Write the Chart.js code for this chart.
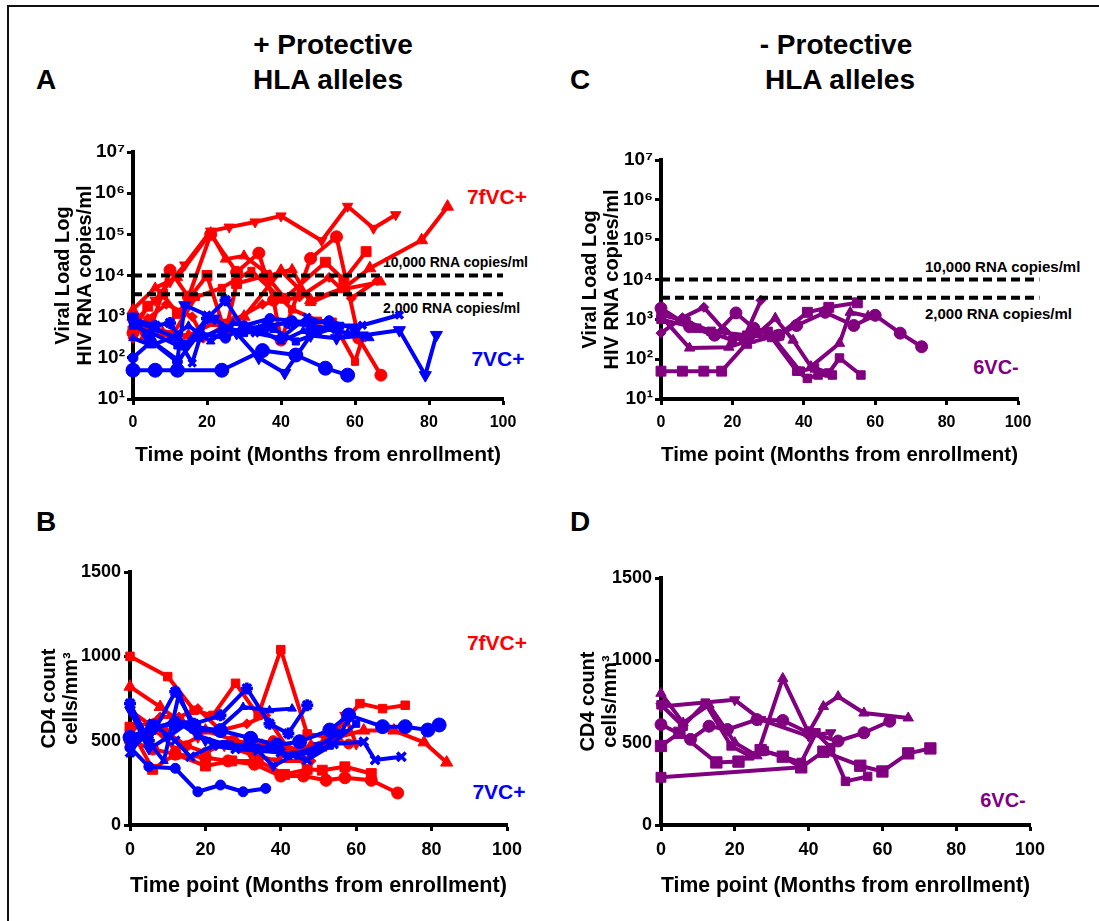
<!DOCTYPE html>
<html><head><meta charset="utf-8">
<script src="https://cdn.jsdelivr.net/npm/chart.js@4.4.1/dist/chart.umd.min.js"></script>
<style>
html,body{margin:0;padding:0;background:#fff;}
body{width:1099px;height:921px;position:relative;overflow:hidden;font-family:"Liberation Sans",Arial,sans-serif;}
.frame{position:absolute;left:7px;top:5px;right:-5px;bottom:-5px;border-top:2px solid #111;border-left:2px solid #111;}
.t{position:absolute;font-weight:bold;white-space:nowrap;line-height:1;transform:translate(-50%,-50%);color:#000;}
.l{position:absolute;font-weight:bold;white-space:nowrap;line-height:1;transform:translate(0,-50%);color:#000;}
canvas{position:absolute;}
</style></head><body>
<div class="frame"></div>
<div class="t" style="left:46px;top:80px;font-size:28px;">A</div>
<div class="t" style="left:580px;top:80px;font-size:28px;">C</div>
<div class="t" style="left:46px;top:522px;font-size:28px;">B</div>
<div class="t" style="left:580px;top:522px;font-size:28px;">D</div>
<div class="t" style="left:333px;top:45px;font-size:28px;">+ Protective</div>
<div class="t" style="left:328px;top:80px;font-size:28px;">HLA alleles</div>
<div class="t" style="left:836px;top:45px;font-size:28px;">- Protective</div>
<div class="t" style="left:840px;top:80px;font-size:28px;">HLA alleles</div>
<div class="t" style="left:497px;top:196px;font-size:21px;color:#ff0000;">7fVC+</div>
<div class="t" style="left:498px;top:358px;font-size:21px;color:#0000ff;">7VC+</div>
<div class="l" style="left:383px;top:262px;font-size:14px;">10,000 RNA copies/ml</div>
<div class="l" style="left:383px;top:308px;font-size:14px;">2,000 RNA copies/ml</div>
<div class="l" style="left:925px;top:266px;font-size:15px;">10,000 RNA copies/ml</div>
<div class="l" style="left:925px;top:313px;font-size:15px;">2,000 RNA copies/ml</div>
<div class="t" style="left:996px;top:367px;font-size:20px;color:#800080;">6VC-</div>
<div class="t" style="left:497px;top:642px;font-size:21px;color:#ff0000;">7fVC+</div>
<div class="t" style="left:499px;top:791px;font-size:21px;color:#0000ff;">7VC+</div>
<div class="t" style="left:1003px;top:800px;font-size:20px;color:#800080;">6VC-</div>

<canvas id="cA" width="535" height="359" style="left:10px;top:120px;"></canvas>
<canvas id="cC" width="535" height="359" style="left:560px;top:120px;"></canvas>
<canvas id="cB" width="535" height="375" style="left:10px;top:530px;"></canvas>
<canvas id="cD" width="535" height="375" style="left:560px;top:530px;"></canvas>
<script>
// ---------- axis / tick data ----------
const xTicks = [0, 20, 40, 60, 80, 100];
const logTicks = [1e1, 1e2, 1e3, 1e4, 1e5, 1e6, 1e7];
const cd4Ticks = [0, 500, 1000, 1500];
const thresholds = [10000, 3500];   // dashed reference lines (as plotted)

// ---------- Panel A: viral load, protective HLA+ ----------
// 7fVC+ (red)
const vlA_red1 = [[0,700],[6,2500],[10,7000],[14,18000],[21,120000],[26,150000],[33,200000],[40,280000],[51,70000],[58,480000],[65,140000],[71,300000]];
const vlA_red2 = [[0,1500],[6,5000],[12,9000],[21,110000],[25,25000],[30,30000],[37,10000],[43,14000],[48,2200],[56,4500],[67,7000]];
const vlA_red3 = [[0,450],[4,1800],[8,3500],[12,1200],[20,10000],[25,400],[28,6400],[36,10000],[41,2800],[52,21000],[57,7800],[63,38000]];
const vlA_red4 = [[0,400],[5,600],[10,13500],[15,3000],[21,100000],[28,12000],[34,35000],[38,2500],[40,270],[48,26000],[55,87000],[61,300],[67,38]];
const vlA_red5 = [[0,1000],[3,300],[8,400],[15,350],[22,700],[30,1000],[40,13000],[48,2500],[57,5000],[64,15000],[78,72000],[85,470000]];
const vlA_red6 = [[0,600],[5,500],[11,400],[17,3000],[24,5000],[32,13000],[43,1500],[50,800],[54,760],[60,80],[62,300]];
const vlA_red7 = [[0,300],[4,900],[9,2000],[16,1000],[19,300],[27,800],[35,2000],[45,3000],[53,9000],[59,2800],[66,7500]];
// 7VC+ (blue)
const vlA_blue1 = [[0,50],[6,50],[12,50],[24,50],[35,150],[44,117],[52,56],[58,38]];
const vlA_blue2 = [[0,1000],[4,300],[12,90],[14,1900],[22,900],[28,400],[34,100],[41,43],[48,350],[55,300],[62,350],[72,470],[79,38],[82,360]];
const vlA_blue3 = [[0,800],[6,500],[12,300],[16,75],[20,1100],[26,500],[33,400],[40,300],[47,970],[54,600],[62,620],[72,1100]];
const vlA_blue4 = [[0,900],[6,600],[10,700],[14,200],[20,900],[25,2500],[30,500],[36,600],[42,700],[48,600],[55,500]];
const vlA_blue5 = [[0,100],[5,250],[12,80],[18,400],[25,300],[30,600],[37,900],[43,800],[48,700],[53,800],[60,500]];
const vlA_blue6 = [[0,300],[5,200],[10,300],[15,600],[21,250],[27,700],[34,500],[40,250],[46,450],[52,500],[58,400],[64,300]];
const vlA_blue7 = [[0,600],[5,400],[12,200],[18,300],[24,500],[30,400],[38,500],[44,250],[50,400],[56,600]];

// ---------- Panel C: viral load, protective HLA- (6VC-, purple) ----------
const vlC_p1 = [[0,50],[6,50],[12,50],[17,50],[24,250],[33,400],[41,1500],[47,2000],[55,2600]];
const vlC_p2 = [[0,1900],[8,650],[15,400],[21,1450],[26,600],[33,400],[38,700],[46,1500],[54,700],[60,1260],[67,450],[73,205]];
const vlC_p3 = [[0,1200],[8,190],[19,200],[25,300],[32,1070],[37,300],[42,65],[50,250],[53,1500],[58,1200]];
const vlC_p4 = [[0,450],[6,1100],[12,2000],[18,500],[23,300],[28,3000]];
const vlC_p5 = [[0,1300],[7,900],[14,500],[24,400],[31,350],[38,50],[41,33],[44,40],[48,40]];
const vlC_p6 = [[0,1000],[10,600],[20,300],[30,500],[39,50],[43,60],[47,45],[50,107],[56,40]];

// ---------- Panel B: CD4, protective HLA+ ----------
const cdB_red1 = [[0,1000],[10,880],[17,680],[22,650],[28,840],[34,650],[40,1040],[47,540],[53,520],[61,720],[67,690],[73,710]];
const cdB_red2 = [[0,820],[8,700],[14,600],[20,560],[28,500],[35,470],[41,420],[48,470],[55,520],[62,560],[70,560],[78,490],[84,370]];
const cdB_red3 = [[0,500],[6,450],[12,420],[20,400],[26,380],[33,360],[40,290],[46,290],[52,265],[57,280],[64,265],[71,190]];
const cdB_red4 = [[0,580],[6,330],[12,420],[20,350],[27,380],[34,380],[41,300],[47,330],[51,325],[57,345],[64,305]];
const cdB_red5 = [[0,680],[5,600],[12,450],[18,520],[25,470],[32,420],[39,380],[46,380],[52,470],[57,650],[60,480]];
const cdB_red6 = [[0,560],[8,640],[13,640],[18,690],[24,560],[31,600],[36,650],[42,450],[48,380]];
const cdB_red7 = [[0,460],[4,530],[9,560],[15,470],[20,430],[27,500],[33,470],[38,500],[45,440],[52,500],[58,480]];
const cdB_blue1 = [[0,460],[5,346],[12,336],[18,197],[24,237],[30,197],[36,217]];
const cdB_blue2 = [[0,720],[5,500],[12,790],[17,600],[24,650],[31,810],[37,600],[42,543],[47,710]];
const cdB_blue3 = [[0,520],[6,583],[12,600],[17,583],[24,560],[32,514],[39,474],[45,494],[53,563],[58,652],[67,583],[73,583],[79,563],[82,593]];
const cdB_blue4 = [[0,430],[6,600],[12,500],[16,405],[22,470],[28,450],[34,440],[40,430],[47,385],[54,480],[62,494],[65,385],[72,405]];
const cdB_blue5 = [[0,680],[5,450],[10,520],[15,600],[20,500],[26,480],[33,460],[38,350],[44,420],[50,470],[56,550],[58,630]];
const cdB_blue6 = [[0,460],[4,520],[9,380],[13,780],[17,560],[23,560],[30,700],[37,680],[43,690]];
const cdB_blue7 = [[0,500],[6,560],[12,620],[18,530],[25,480],[31,470],[37,460],[42,410],[48,430],[53,470],[60,600]];

// ---------- Panel D: CD4, protective HLA- (6VC-, purple) ----------
const cdD_p1 = [[0,290],[38,350]];
const cdD_p2 = [[0,480],[5,560],[15,380],[21,385],[27,455],[33,415],[38,350],[44,445],[54,360],[60,325],[67,435],[73,465]];
const cdD_p3 = [[0,800],[6,620],[13,730],[20,500],[26,420],[33,890],[40,560],[44,720],[48,780],[55,680],[67,650]];
const cdD_p4 = [[0,610],[8,520],[13,600],[18,580],[26,640],[33,635],[40,560],[48,510],[55,560],[62,630]];
const cdD_p5 = [[0,720],[20,760],[27,640],[40,540],[46,560]];
const cdD_p6 = [[0,730],[6,600],[12,740],[19,480],[24,420],[28,450],[38,380],[42,560],[46,470],[50,265],[56,295]];

// ---------- colours & styles ----------
const RED = '#ff0000', BLUE = '#0000ff', PURPLE = '#800080';
const FONT = '"Liberation Sans", Arial, sans-serif';
const SUP = {1:'\u00B9',2:'\u00B2',3:'\u00B3',4:'\u2074',5:'\u2075',6:'\u2076',7:'\u2077'};

function series(pts, color, style, r, rot) {
  return {
    data: pts.map(p => ({x: p[0], y: p[1]})),
    borderColor: color, backgroundColor: color,
    pointBackgroundColor: color, pointBorderColor: color,
    borderWidth: 4, pointStyle: style, pointRadius: r, pointRotation: rot || 0,
    pointBorderWidth: (style === 'crossRot' || style === 'star' || style === 'cross') ? 3.5 : 1,
    tension: 0, clip: false, borderJoinStyle: 'round'
  };
}
function dashed(y, xEnd) {
  return { data: [{x: 0, y: y}, {x: xEnd, y: y}], borderColor: '#000', borderWidth: 4,
    borderDash: [9, 5], pointRadius: 0, clip: false, borderCapStyle: 'butt' };
}

function makeChart(id, datasets, o) {
  const isLog = o.log;
  const yScale = isLog ? {
    type: 'logarithmic', min: 10, max: 1e7,
    afterBuildTicks: s => { s.ticks = logTicks.map(v => ({value: v})); },
    ticks: { autoSkip: false, color: '#000', padding: 2,
      font: {family: FONT, size: o.yFont, weight: 'bold'},
      callback: v => '10' + SUP[Math.round(Math.log10(v))] }
  } : {
    type: 'linear', min: 0, max: 1500,
    afterBuildTicks: s => { s.ticks = cd4Ticks.map(v => ({value: v})); },
    ticks: { color: '#000', padding: 3, font: {family: FONT, size: o.yFont, weight: 'bold'},
      callback: v => String(v) }
  };
  Object.assign(yScale, {
    grid: { drawOnChartArea: false, drawTicks: true, tickLength: 6, tickWidth: 3, tickColor: '#000', color: '#000' },
    border: { display: true, width: 4, color: '#000' },
    title: { display: true, text: o.yTitle, color: '#000',
      font: {family: FONT, size: 20, weight: 'bold', lineHeight: 1.1},
      padding: {top: o.yTitlePad, bottom: 0} },
    afterFit: s => { s.width = o.yWidth; }
  });
  return new Chart(document.getElementById(id), {
    type: 'line',
    data: { datasets: datasets },
    options: {
      responsive: false, animation: false, devicePixelRatio: 1,
      layout: { padding: { left: 0, top: o.padTop, right: o.padRight, bottom: 0 } },
      plugins: { legend: { display: false }, tooltip: { enabled: false } },
      scales: {
        x: {
          type: 'linear', min: 0, max: 100,
          afterBuildTicks: s => { s.ticks = xTicks.map(v => ({value: v})); },
          ticks: { color: '#000', padding: 8, font: {family: FONT, size: o.xFont, weight: 'bold'},
            callback: v => String(v) },
          grid: { drawOnChartArea: false, drawTicks: true, tickLength: 6, tickWidth: 3, tickColor: '#000', color: '#000' },
          border: { display: true, width: 4, color: '#000' },
          title: { display: true, text: 'Time point (Months from enrollment)', color: '#000',
            font: {family: FONT, size: o.xTitleFont, weight: 'bold'},
            padding: {top: 0, bottom: o.xTitlePad} },
          afterFit: s => { s.height = 80; }
        },
        y: yScale
      }
    }
  });
}

const vlTitle = ['Viral Load Log', 'HIV RNA copies/ml'];
const cdTitle = ['CD4 count', 'cells/mm\u00B3'];

makeChart('cA', [
  dashed(thresholds[0], 100), dashed(thresholds[1], 100),
  series(vlA_blue1, BLUE, 'circle', 7), series(vlA_blue2, BLUE, 'triangle', 7, 180),
  series(vlA_blue3, BLUE, 'crossRot', 5), series(vlA_blue4, BLUE, 'star', 6),
  series(vlA_blue5, BLUE, 'circle', 5), series(vlA_blue6, BLUE, 'triangle', 5),
  series(vlA_blue7, BLUE, 'rect', 5),
  series(vlA_red1, RED, 'triangle', 6, 180), series(vlA_red2, RED, 'triangle', 6),
  series(vlA_red3, RED, 'rect', 7), series(vlA_red4, RED, 'circle', 6),
  series(vlA_red5, RED, 'triangle', 7), series(vlA_red6, RED, 'rect', 5),
  series(vlA_red7, RED, 'rectRot', 5)
], {log: true, yTitle: vlTitle, yTitlePad: 42, yWidth: 123, padTop: 32, padRight: 42, yFont: 19, xFont: 16, xTitleFont: 21, xTitlePad: 11});

makeChart('cC', [
  dashed(thresholds[0], 106), dashed(thresholds[1], 106),
  series(vlC_p1, PURPLE, 'rect', 7), series(vlC_p2, PURPLE, 'circle', 6),
  series(vlC_p3, PURPLE, 'triangle', 6), series(vlC_p4, PURPLE, 'rectRot', 5),
  series(vlC_p5, PURPLE, 'rect', 6), series(vlC_p6, PURPLE, 'rect', 6)
], {log: true, yTitle: vlTitle, yTitlePad: 19, yWidth: 101, padTop: 40, padRight: 77, yFont: 19, xFont: 16, xTitleFont: 21, xTitlePad: 11});

makeChart('cB', [
  series(cdB_blue1, BLUE, 'circle', 5), series(cdB_blue2, BLUE, 'star', 6),
  series(cdB_blue3, BLUE, 'circle', 7), series(cdB_blue4, BLUE, 'crossRot', 6),
  series(cdB_blue5, BLUE, 'triangle', 6, 180), series(cdB_blue6, BLUE, 'triangle', 5),
  series(cdB_blue7, BLUE, 'rect', 5),
  series(cdB_red1, RED, 'rect', 6), series(cdB_red2, RED, 'triangle', 7),
  series(cdB_red3, RED, 'circle', 6), series(cdB_red4, RED, 'rect', 7),
  series(cdB_red5, RED, 'triangle', 6, 180), series(cdB_red6, RED, 'rectRot', 5),
  series(cdB_red7, RED, 'circle', 5)
], {log: false, yTitle: cdTitle, yTitlePad: 28, yWidth: 120, padTop: 42, padRight: 38, yFont: 18, xFont: 18, xTitleFont: 22, xTitlePad: 6});

makeChart('cD', [
  series(cdD_p1, PURPLE, 'rect', 7), series(cdD_p2, PURPLE, 'rect', 8),
  series(cdD_p3, PURPLE, 'triangle', 6), series(cdD_p4, PURPLE, 'circle', 6),
  series(cdD_p5, PURPLE, 'triangle', 6, 180), series(cdD_p6, PURPLE, 'rect', 6)
], {log: false, yTitle: cdTitle, yTitlePad: 17, yWidth: 101, padTop: 48, padRight: 65, yFont: 18, xFont: 18, xTitleFont: 22, xTitlePad: 6});
</script>
</body></html>
